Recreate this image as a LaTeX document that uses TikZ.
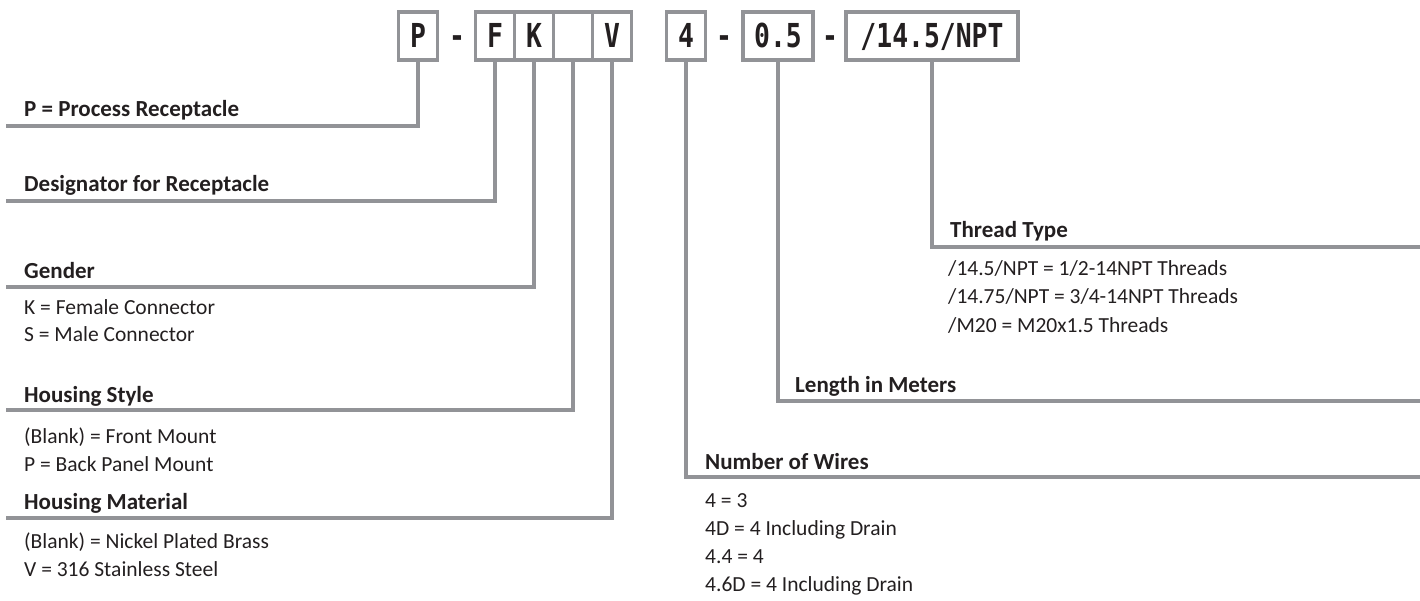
\documentclass[tikz,border=0pt]{standalone}
\usepackage{fontspec}
\setmainfont{Carlito}
\newfontfamily\codefont[FakeStretch=0.8]{DejaVu Sans Mono}
\usetikzlibrary{positioning}
\definecolor{leadgray}{RGB}{146,147,151}
\definecolor{inkblack}{RGB}{35,31,32}

\begin{document}
\begin{tikzpicture}[
		x=1pt, y=-1pt,
		node distance = 0pt,
		cell/.style = {draw=leadgray, line width=3.5pt, outer sep=0pt, inner sep=0pt, minimum height=48pt, minimum width=39pt, text height=24pt, text depth=0pt, text=inkblack, font=\codefont\bfseries\fontsize{33}{33}\selectfont},
		joiner/.style = {inner sep=0pt, text height=24pt, text depth=0pt, text=inkblack, font=\codefont\bfseries\fontsize{33}{33}\selectfont},
		lead/.style = {draw=leadgray, line width=4pt},
		head/.style = {anchor=base west, inner sep=0pt, text=inkblack, font=\bfseries\fontsize{23}{27}\selectfont},
		item/.style = {anchor=base west, inner sep=0pt, text=inkblack, font=\fontsize{21.5}{28}\selectfont}
		]
		\useasboundingbox (0,0) rectangle (1420,601);
		
		% code boxes
		\node [cell] (proc) at (418,36) {P};
		\node [joiner] (dashA) at (457,36) {-};
		\node [cell] (desig) at (495,36) {F};
		\node [cell, right=of desig] (gender) {K};
		\node [cell, right=of gender] (hstyle) {};
		\node [cell, right=of hstyle] (hmat) {V};
		\node [cell] (wires) at (686,36) {4};
		\node [joiner] (dashB) at (724,36) {-};
		\node [cell, minimum width=70pt] (len) at (778,36) {0.5};
		\node [joiner] (dashC) at (830,36) {-};
		\node [cell, minimum width=172pt] (thread) at (932,36) {/14.5/NPT};
		
		% line ends
		\coordinate (procEnd) at (6,126);
		\coordinate (desigEnd) at (6,201);
		\coordinate (genderEnd) at (6,287);
		\coordinate (hstyleEnd) at (6,410);
		\coordinate (hmatEnd) at (6,518);
		\coordinate (wiresEnd) at (1420,477);
		\coordinate (lenEnd) at (1420,401);
		\coordinate (threadEnd) at (1420,247);
		
		\draw [lead] (proc.south) |- (procEnd);
		\draw [lead] (desig.south) |- (desigEnd);
		\draw [lead] (gender.south) |- (genderEnd);
		\draw [lead] (hstyle.south) |- (hstyleEnd);
		\draw [lead] (hmat.south) |- (hmatEnd);
		\draw [lead] (wires.south) |- (wiresEnd);
		\draw [lead] (len.south) |- (lenEnd);
		\draw [lead] (thread.south) |- (threadEnd);
		
		% left side labels
		\node [head] (procHead) at (24,117) {P = Process Receptacle};
		\node [head] (desigHead) at (24,192) {Designator for Receptacle};
		\node [head] (genderHead) at (24,279) {Gender};
		\node [item] (genderK) at (24,314) {K = Female Connector};
		\node [item] (genderS) at (24,341) {S = Male Connector};
		\node [head] (hstyleHead) at (24,402) {Housing Style};
		\node [item] (hstyleF) at (24,443) {(Blank) = Front Mount};
		\node [item] (hstyleP) at (24,471) {P = Back Panel Mount};
		\node [head] (hmatHead) at (24,509) {Housing Material};
		\node [item] (hmatB) at (24,548) {(Blank) = Nickel Plated Brass};
		\node [item] (hmatV) at (24,576) {V = 316 Stainless Steel};
		
		% right side labels
		\node [head] (threadHead) at (950,238) {Thread Type};
		\node [item] (threadA) at (948,276) {/14.5/NPT = 1/2-14NPT Threads};
		\node [item] (threadB) at (948,304) {/14.75/NPT = 3/4-14NPT Threads};
		\node [item] (threadC) at (948,332) {/M20 = M20x1.5 Threads};
		\node [head] (lenHead) at (795,392) {Length in Meters};
		\node [head] (wiresHead) at (705,469) {Number of Wires};
		\node [item] (wiresA) at (705,507) {4 = 3};
		\node [item] (wiresB) at (705,535) {4D = 4 Including Drain};
		\node [item] (wiresC) at (705,563) {4.4 = 4};
		\node [item] (wiresD) at (705,591) {4.6D = 4 Including Drain};
		
	\end{tikzpicture}
\end{document}
